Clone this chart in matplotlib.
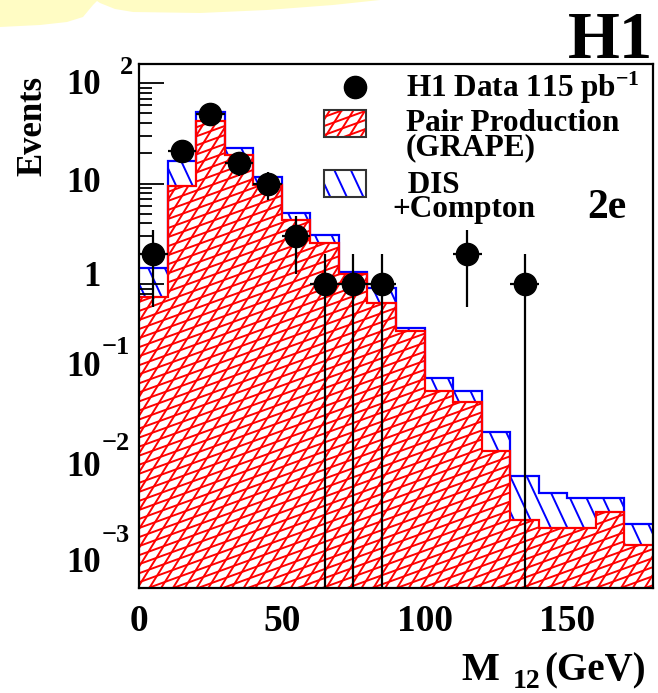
import numpy as np
import matplotlib
matplotlib.use("Agg")
import matplotlib.pyplot as plt
from matplotlib.collections import LineCollection
from matplotlib.patches import Rectangle, Polygon
from matplotlib.transforms import blended_transform_factory, ScaledTranslation
from matplotlib.ticker import FixedLocator, NullFormatter

# ---------------- data ----------------
bin_edges = [0, 10, 20, 30, 40, 50, 60, 70, 80, 90, 100, 110, 120, 130, 140, 150, 160, 170, 180]
pair_production = [0.75, 9.4, 41.9, 19.2, 9.6, 4.3, 2.58, 1.25, 0.652, 0.34, 0.086, 0.0674,
                   0.0218, 0.00446, 0.00376, 0.00376, 0.00538, 0.00253]
dis_compton = [0.70, 7.3, 9.6, 3.5, 2.0, 0.8, 0.47, 0.08, 0.254, 0.022, 0.030, 0.0186,
               0.0121, 0.0079, 0.0046, 0.0036, 0.0021, 0.0016]
data_mass = [5, 15, 25, 35, 45, 55, 65, 75, 85, 115, 135]
data_events = [2, 21, 49, 16, 10, 3, 1, 1, 1, 2, 1]
ytick_values = [1e2, 1e1, 1e0, 1e-1, 1e-2, 1e-3]
ytick_bases = ["10", "10", "1", "10", "10", "10"]
ytick_exps = ["2", "", "", "\u22121", "\u22122", "\u22123"]
xtick_values = [0, 50, 100, 150]
xtick_labels = ["0", "50", "100", "150"]

FW, FH = 658, 693
plt.rcParams["font.family"] = ["Liberation Serif", "DejaVu Serif"]
plt.rcParams["font.weight"] = "bold"
plt.rcParams["mathtext.fontset"] = "custom"
plt.rcParams["mathtext.rm"] = "Liberation Serif:bold"
plt.rcParams["mathtext.it"] = "Liberation Serif:bold"
plt.rcParams["mathtext.bf"] = "Liberation Serif:bold"
plt.rcParams["mathtext.default"] = "rm"

fig = plt.figure(figsize=(FW / 100, FH / 100), dpi=100)

def fx(px):
    return px / FW

def fy(py):
    return 1 - py / FH

# decorative yellow smear at top-left
blob = [(0, 0), (0, 27), (40, 25), (67, 22), (83, 17), (93, 5), (97, 1), (100, 3), (115, 9),
        (133, 12), (200, 13), (267, 10), (333, 5), (380, 0)]
fig.patches.append(Polygon([(fx(a), fy(b)) for a, b in blob], closed=True,
                           transform=fig.transFigure, facecolor="#fffcc4", edgecolor="none", zorder=0))

ax_l, ax_r, ax_t, ax_b = 139, 653, 64, 587.5
ax = fig.add_axes([fx(ax_l), fy(ax_b), fx(ax_r - ax_l), (ax_b - ax_t) / FH])
ax.set_yscale("log", nonpositive="clip")
ax.set_xlim(0, 180)
ax.set_ylim(10 ** (-3 - 2 / 100.5), 10 ** (2 + 19 / 100.5))

def hatch_lines(angle, spacing, color, lw, clip_patch, zorder, target):
    th = np.deg2rad(angle)
    d = np.array([np.cos(th), np.sin(th)])
    n = np.array([-np.sin(th), np.cos(th)])
    c = np.array([FW / 2, FH / 2])
    L = np.hypot(FW, FH)
    segs = []
    for off in np.arange(-L, L, spacing):
        p = c + n * off
        a = p - d * L
        b = p + d * L
        segs.append([(a[0] / FW, a[1] / FH), (b[0] / FW, b[1] / FH)])
    lc = LineCollection(segs, colors=color, linewidths=lw, transform=fig.transFigure, zorder=zorder)
    if target is ax:
        ax.add_collection(lc)
    else:
        fig.add_artist(lc)
    lc.set_clip_path(clip_patch)
    return lc

total = np.array(pair_production) + np.array(dis_compton)
p_tot = ax.stairs(total, bin_edges, baseline=1e-6, fill=True, facecolor="white", edgecolor="none", zorder=1)
hatch_lines(-65, 15, "blue", 1.4, p_tot, 1.5, ax)
p_red = ax.stairs(pair_production, bin_edges, baseline=1e-6, fill=True, facecolor="white",
                  edgecolor="none", zorder=2)
hatch_lines(20, 8.5, "red", 1.4, p_red, 2.5, ax)
hatch_lines(58, 10, "red", 1.4, p_red, 2.5, ax)
ax.stairs(total, bin_edges, baseline=None, color="blue", lw=1.6, zorder=3)
ax.stairs(pair_production, bin_edges, baseline=None, color="red", lw=1.6, zorder=3.1)

n = np.array(data_events, dtype=float)
err = np.sqrt(n)
lower = np.minimum(err, n - 1e-5)
ax.errorbar(data_mass, data_events, xerr=5, yerr=[lower, err], fmt="o", color="black",
            ms=16, elinewidth=1.6, capsize=0, zorder=5)

# axes style
for s in ax.spines.values():
    s.set_linewidth(1.6)
    s.set_zorder(6)
ax.xaxis.set_major_locator(FixedLocator(xtick_values))
ax.xaxis.set_minor_locator(FixedLocator(np.arange(0, 181, 10)))
ax.yaxis.set_major_locator(FixedLocator(ytick_values))
ax.yaxis.set_minor_locator(FixedLocator([m * 10.0 ** e for e in range(-3, 3) for m in range(2, 10)]))
ax.yaxis.set_major_formatter(NullFormatter())
ax.yaxis.set_minor_formatter(NullFormatter())
ax.set_xticklabels(xtick_labels)
ax.tick_params(axis="both", which="both", direction="in", top=False, right=False, width=1.3)
ax.tick_params(axis="both", which="major", length=18)
ax.tick_params(axis="both", which="minor", length=9)
ax.tick_params(axis="x", which="major", labelsize=27, pad=12)
for lab in ax.get_xticklabels():
    lab.set_fontweight("bold")

# y tick labels, ROOT-like
base_dy = [-3, 0, 6, 16.5, 17, 22]
exp_dy = [16, 0, 0, 36.5, 41.5, 50.5]
for v, b, e, bdy, edy in zip(ytick_values, ytick_bases, ytick_exps, base_dy, exp_dy):
    tb = blended_transform_factory(fig.transFigure, ax.transData)
    ax.text(fx(101), v, b, transform=tb + ScaledTranslation(0, bdy / 100, fig.dpi_scale_trans),
            ha="right", va="center", fontsize=25, fontweight="bold", clip_on=False)
    if e:
        xe = fx(120) if e == "2" else fx(102)
        ax.text(xe, v, e, transform=tb + ScaledTranslation(0, edy / 100, fig.dpi_scale_trans),
                ha="left", va="center", fontsize=19, fontweight="bold", clip_on=False)

# axis titles
fig.text(fx(33), fy(126), "Events", rotation=90, ha="center", va="center", fontsize=25, fontweight="bold")
fig.text(fx(461), fy(680), "M", ha="left", va="baseline", fontsize=29, fontweight="bold")
fig.text(fx(513), fy(688), "12", ha="left", va="baseline", fontsize=20, fontweight="bold")
fig.text(fx(544), fy(680), "(GeV)", ha="left", va="baseline", fontsize=28, fontweight="bold")

# H1 logo text
fig.text(fx(653), fy(58), "H1", ha="right", va="baseline", fontsize=48, fontweight="bold")

# legend
fs_leg = 22.5
lx0, lx1 = 324, 366
fig.add_artist(plt.Line2D([fx(355)], [fy(87)], marker="o", ms=16, color="black", transform=fig.transFigure))
fig.text(fx(406), fy(97), "H1 Data 115 pb$^{\u22121}$", ha="left", va="baseline", fontsize=fs_leg, fontweight="bold")
r1 = Rectangle((fx(lx0), fy(137)), fx(lx1 - lx0), (137 - 110) / FH, transform=fig.transFigure,
               facecolor="white", edgecolor="none", zorder=2)
fig.add_artist(r1)
hatch_lines(20, 8.5, "red", 1.4, r1, 2.5, fig)
hatch_lines(58, 10, "red", 1.4, r1, 2.5, fig)
fig.add_artist(Rectangle((fx(lx0), fy(137)), fx(lx1 - lx0), (137 - 110) / FH, transform=fig.transFigure,
                         facecolor="none", edgecolor="#333333", lw=1.5, zorder=3))
fig.text(fx(406), fy(109), "Pair Production\n(GRAPE)", ha="left", va="top", fontsize=fs_leg,
         fontweight="bold", linespacing=0.78)
r2 = Rectangle((fx(lx0), fy(197)), fx(lx1 - lx0), (197 - 170) / FH, transform=fig.transFigure,
               facecolor="white", edgecolor="none", zorder=2)
fig.add_artist(r2)
hatch_lines(-65, 15, "blue", 1.4, r2, 2.5, fig)
fig.add_artist(Rectangle((fx(lx0), fy(197)), fx(lx1 - lx0), (197 - 170) / FH, transform=fig.transFigure,
                         facecolor="none", edgecolor="#333333", lw=1.5, zorder=3))
fig.text(fx(392), fy(171), "  DIS\n+Compton", ha="left", va="top", fontsize=fs_leg,
         fontweight="bold", linespacing=0.78)
fig.text(fx(587), fy(218), "2e", ha="left", va="baseline", fontsize=30, fontweight="bold")

fig.savefig("out.png", dpi=100)
